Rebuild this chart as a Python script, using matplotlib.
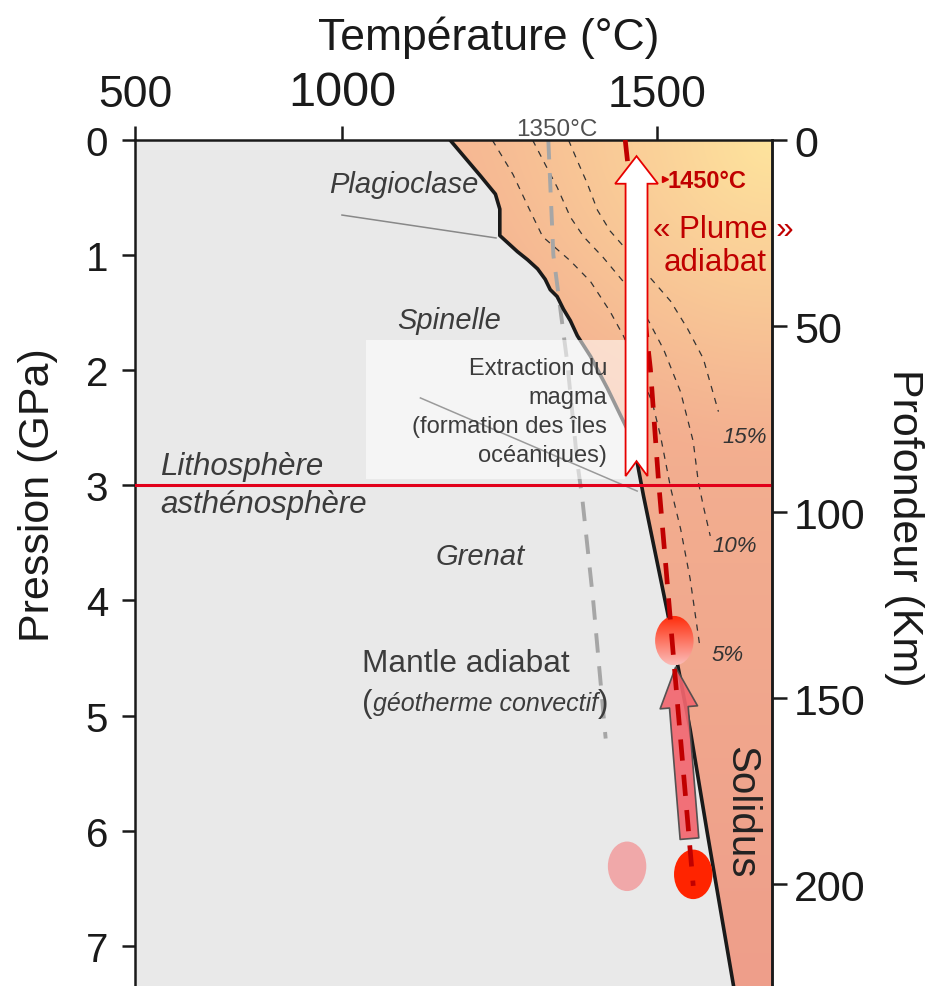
import numpy as np
import matplotlib
matplotlib.use('Agg')
import matplotlib.pyplot as plt
from matplotlib.patches import Polygon, Ellipse, Rectangle
from matplotlib.colors import to_rgb

plt.rcParams['font.family'] = ['Liberation Sans', 'DejaVu Sans']
plt.rcParams['axes.linewidth'] = 1.8

# ---------------- axes definition ----------------
T_MIN, T_MAX = 671, 1682            # temperature range shown (°C)
P_MAX = 7.35                         # pressure at the lower edge (GPa)
KM_PER_GPA = 30.94                   # depth conversion
TEMP_TICKS = [671, 1000, 1500]
TEMP_TICK_LABELS = ['500', '1000', '1500']
TEMP_TICK_SIZES = [32, 35, 32]
PRESSURE_TICKS = [0, 1, 2, 3, 4, 5, 6, 7]
DEPTH_TICKS = [0, 50, 100, 150, 200]

# ---------------- curves ----------------
SOLIDUS_T = [1171, 1219, 1243, 1250, 1250, 1278, 1294, 1310, 1322, 1330, 1341, 1351, 1362, 1373,
             1394, 1421, 1452, 1468, 1478, 1516, 1552, 1579, 1621]
SOLIDUS_P = [0.0, 0.31, 0.47, 0.60, 0.83, 0.97, 1.04, 1.12, 1.21, 1.30, 1.36, 1.47, 1.57, 1.70,
             1.88, 2.16, 2.51, 2.80, 3.09, 4.10, 5.12, 6.01, 7.35]

MANTLE_ADIABAT_T = [1327, 1335, 1357, 1373, 1381, 1398, 1418]
MANTLE_ADIABAT_P = [0.0, 1.0, 1.93, 2.80, 3.12, 3.99, 5.20]

PLUME_ADIABAT_T = [1449, 1489, 1502, 1513, 1525, 1557]
PLUME_ADIABAT_P = [0.0, 1.99, 2.97, 3.67, 4.45, 6.48]

MELT_LABELS = ['5%', '10%', '15%']
MELT_5_T = [1238, 1271, 1295, 1318, 1362, 1394, 1425, 1446, 1473, 1492, 1505, 1521, 1537, 1552, 1568]
MELT_5_P = [0.0, 0.30, 0.58, 0.84, 1.05, 1.23, 1.49, 1.70, 2.03, 2.28, 2.57, 3.02, 3.38, 3.81, 4.42]
MELT_10_T = [1302, 1319, 1341, 1362, 1383, 1414, 1446, 1486, 1510, 1537, 1557, 1565, 1573, 1584]
MELT_10_P = [0.0, 0.18, 0.41, 0.67, 0.84, 1.02, 1.23, 1.57, 1.82, 2.19, 2.62, 2.97, 3.18, 3.44]
MELT_15_T = [1359, 1373, 1389, 1405, 1425, 1449, 1486, 1521, 1548, 1573, 1597]
MELT_15_P = [0.0, 0.18, 0.38, 0.61, 0.79, 0.94, 1.18, 1.40, 1.64, 1.90, 2.36]
MELT_LABEL_T = [1612, 1623, 1639]
MELT_LABEL_P = [4.47, 3.52, 2.58]

LAB_PRESSURE = 3.0                   # lithosphere / asthenosphere boundary

# magma sources (ellipses): melting plume head, hot source, normal source
SOURCE_T = [1527, 1557, 1452]
SOURCE_P = [4.35, 6.38, 6.31]
SOURCE_COLORS = ['gradient', '#ff2400', '#f0a8a9']
SOURCE_W, SOURCE_H = 61, 0.43

# ---------------- styles ----------------
TXT = '#3c3c3c'
RED = '#c00000'
LAB_RED = '#e2001a'
GREY_BG = '#e9e9e9'

fig = plt.figure(figsize=(9.26, 9.87), dpi=100)
ax = fig.add_axes([135 / 926, 0.0, 637 / 926, 846 / 987])
ax.set_facecolor(GREY_BG)

# ---------------- partial-melting field (gradient) ----------------
region = Polygon(np.column_stack([SOLIDUS_T + [T_MAX, T_MAX], SOLIDUS_P + [P_MAX, 0]]),
                 closed=True, facecolor='none', edgecolor='none', transform=ax.transData)
ax.add_patch(region)
ny, nx = 500, 400
X, Y = np.meshgrid(np.linspace(0, 1, nx), np.linspace(0, 1, ny))
top_c = np.array(to_rgb('#f6b893'))
bot_c = np.array(to_rgb('#ee9e8a'))
yel_c = np.array(to_rgb('#fee49d'))
base = top_c * (1 - Y[..., None]) + bot_c * Y[..., None]
d = np.sqrt((1 - X) ** 2 + (Y * 1.33) ** 2)
w = np.clip(1 - d / 0.5, 0, 1) ** 1.2
img = base * (1 - w[..., None]) + yel_c * w[..., None]
im = ax.imshow(img, extent=(T_MIN, T_MAX, P_MAX, 0), aspect='auto', origin='upper',
               zorder=1, interpolation='bilinear')
im.set_clip_path(region)

# ---------------- melt fraction isopleths ----------------
for tt, pp in [(MELT_5_T, MELT_5_P), (MELT_10_T, MELT_10_P), (MELT_15_T, MELT_15_P)]:
    ax.plot(tt, pp, color='#333333', lw=0.9, dashes=(5, 5), zorder=2)
for lab, tt, pp in zip(MELT_LABELS, MELT_LABEL_T, MELT_LABEL_P):
    ax.text(tt, pp, lab, style='italic', fontsize=16, color='#333333',
            ha='center', va='center', zorder=5)

# ---------------- mantle adiabat ----------------
ax.plot(MANTLE_ADIABAT_T, MANTLE_ADIABAT_P, color='#a6a6a6', lw=2.8, dashes=(5, 3.5), zorder=2)
ax.text(1340, 0, '1350°C', fontsize=17.5, color='#505050', ha='center', va='bottom', zorder=5)

# ---------------- solidus ----------------
ax.plot(SOLIDUS_T, SOLIDUS_P, color='#1a1a1a', lw=2.6, zorder=3,
        solid_joinstyle='round', solid_capstyle='round')

# leader lines
ax.plot([999.5, 1244], [0.652, 0.851], color='#888888', lw=1.1, zorder=3)

# semi-transparent box for the "Extraction du magma" note
ax.add_patch(Rectangle((1038, 1.74), 1449 - 1038, 2.945 - 1.74, facecolor='white',
                       edgecolor='none', alpha=0.55, zorder=4))
ax.plot([1124, 1468], [2.241, 3.05], color='#9a9a9a', lw=1.1, zorder=4.5)

# ---------------- lithosphere / asthenosphere ----------------
ax.axhline(LAB_PRESSURE, color=LAB_RED, lw=2.2, zorder=6)

# ---------------- plume adiabat ----------------
ax.plot(PLUME_ADIABAT_T, PLUME_ADIABAT_P, color=RED, lw=3.4, dashes=(4.5, 3), zorder=6)

# ---------------- magma sources ----------------
for t, p, c in zip(SOURCE_T, SOURCE_P, SOURCE_COLORS):
    if c == 'gradient':
        e = Ellipse((t, p), SOURCE_W, SOURCE_H, facecolor='none', edgecolor='none')
        ax.add_patch(e)
        g = np.linspace(0, 1, 100)[:, None, None]
        gimg = np.array(to_rgb('#ff2a08')) * (1 - g) + np.array(to_rgb('#fbbcb8')) * g
        gimg = np.repeat(gimg, 2, axis=1)
        gi = ax.imshow(gimg, extent=(t - SOURCE_W / 2, t + SOURCE_W / 2, p + SOURCE_H / 2, p - SOURCE_H / 2),
                       aspect='auto', origin='upper', zorder=5, interpolation='bilinear')
        gi.set_clip_path(e)
    else:
        ax.add_patch(Ellipse((t, p), SOURCE_W, SOURCE_H, facecolor=c, edgecolor='none', zorder=5))

# rising hot material (pink arrow)
ax.annotate('', xy=(1529, 4.58), xytext=(1551, 6.07),
            arrowprops=dict(arrowstyle='simple,head_length=2.9,head_width=2.7,tail_width=1.35',
                            mutation_scale=10, fc='#f2666e', ec='#4a4a4a', lw=1.2,
                            shrinkA=0, shrinkB=0, alpha=0.92),
            zorder=5.5)

# white plume ascent arrow
Tc, hs, hh = 1467, 17.4, 34
P_tip, P_head, P_tail, P_notch = 0.14, 0.38, 2.92, 2.79
ax.add_patch(Polygon([(Tc, P_tip), (Tc + hh, P_head), (Tc + hs, P_head), (Tc + hs, P_tail),
                      (Tc, P_notch), (Tc - hs, P_tail), (Tc - hs, P_head), (Tc - hh, P_head)],
                     closed=True, facecolor='white', edgecolor='#e60000', lw=1.3, zorder=7))
ax.plot([1512], [0.34], marker='>', color='#d00000', ms=5, zorder=7)

# ---------------- texts ----------------
ax.text(1516, 0.356, '1450°C', fontsize=17, fontweight='bold', color=RED, ha='left', va='center', zorder=8)
ax.text(1605, 0.77, '« Plume »', fontsize=22.5, color=RED, ha='center', va='center', zorder=8)
ax.text(1591, 1.06, 'adiabat', fontsize=22.5, color=RED, ha='center', va='center', zorder=8)

ax.text(1097, 0.38, 'Plagioclase', style='italic', fontsize=21, color=TXT, ha='center', va='center', zorder=5)
ax.text(1170, 1.56, 'Spinelle', style='italic', fontsize=21, color=TXT, ha='center', va='center', zorder=5)
ax.text(1219, 3.61, 'Grenat', style='italic', fontsize=21, color=TXT, ha='center', va='center', zorder=5)
ax.text(711, 2.83, 'Lithosphère', style='italic', fontsize=22.5, color=TXT, ha='left', va='center', zorder=5)
ax.text(711, 3.16, 'asthénosphère', style='italic', fontsize=22.5, color=TXT, ha='left', va='center', zorder=5)
ax.text(1420, 2.36, 'Extraction du\nmagma\n(formation des îles\nocéaniques)', fontsize=17,
        color=TXT, ha='right', va='center', multialignment='right', linespacing=1.42, zorder=5)

t1 = ax.text(1032, 4.54, 'Mantle adiabat', fontsize=22.8, color=TXT, ha='left', va='center', zorder=5)
t2 = ax.text(1032, 4.89, '(', fontsize=22.8, color=TXT, ha='left', va='center', zorder=5)
t3 = ax.annotate('géotherme convectif', xy=(1.0, 0.5), xycoords=t2, style='italic', fontsize=18,
                 color=TXT, ha='left', va='center', zorder=5)
ax.annotate(')', xy=(1.0, 0.5), xycoords=t3, fontsize=22.8, color=TXT, ha='left', va='center', zorder=5)

ax.text(1633, 5.83, 'Solidus', fontsize=29, color='#222222', rotation=270,
        ha='center', va='center', zorder=8)

# ---------------- axes styling ----------------
ax.set_xlim(T_MIN, T_MAX)
ax.set_ylim(P_MAX, 0)
ax.xaxis.tick_top()
ax.set_xticks(TEMP_TICKS, TEMP_TICK_LABELS)
for lbl, fs in zip(ax.get_xticklabels(), TEMP_TICK_SIZES):
    lbl.set_fontsize(fs)
    lbl.set_color('#1a1a1a')
ax.tick_params(axis='x', which='major', top=True, bottom=False, labeltop=True, labelbottom=False,
               length=10, width=1.8, pad=8, direction='out', colors='#1a1a1a')
ax.set_yticks(PRESSURE_TICKS)
ax.tick_params(axis='y', length=9.5, width=1.8, pad=10, labelsize=29, direction='out', colors='#1a1a1a')
ax.spines['bottom'].set_visible(False)
for s in ['left', 'top', 'right']:
    ax.spines[s].set_color('#1a1a1a')

ax.set_xlabel('Température (°C)', fontsize=32, color='#1a1a1a')
ax.xaxis.set_label_position('top')
ax.xaxis.set_label_coords(0.556, 1.107)
ax.set_ylabel('Pression (GPa)', fontsize=31, color='#1a1a1a')
ax.yaxis.set_label_coords(-0.121, 0.582)

ax2 = ax.twinx()
ax2.set_ylim(P_MAX * KM_PER_GPA, 0)
ax2.set_yticks(DEPTH_TICKS)
ax2.tick_params(axis='y', length=11, width=1.8, pad=5, labelsize=31, direction='out', colors='#1a1a1a')
for s in ['left', 'top', 'bottom']:
    ax2.spines[s].set_visible(False)
ax2.spines['right'].set_color('#1a1a1a')
ax2.set_ylabel('Profondeur (Km)', fontsize=31, color='#1a1a1a', rotation=270, va='bottom')
ax2.yaxis.set_label_coords(1.176, 0.543)

fig.savefig('out.png', dpi=100)
